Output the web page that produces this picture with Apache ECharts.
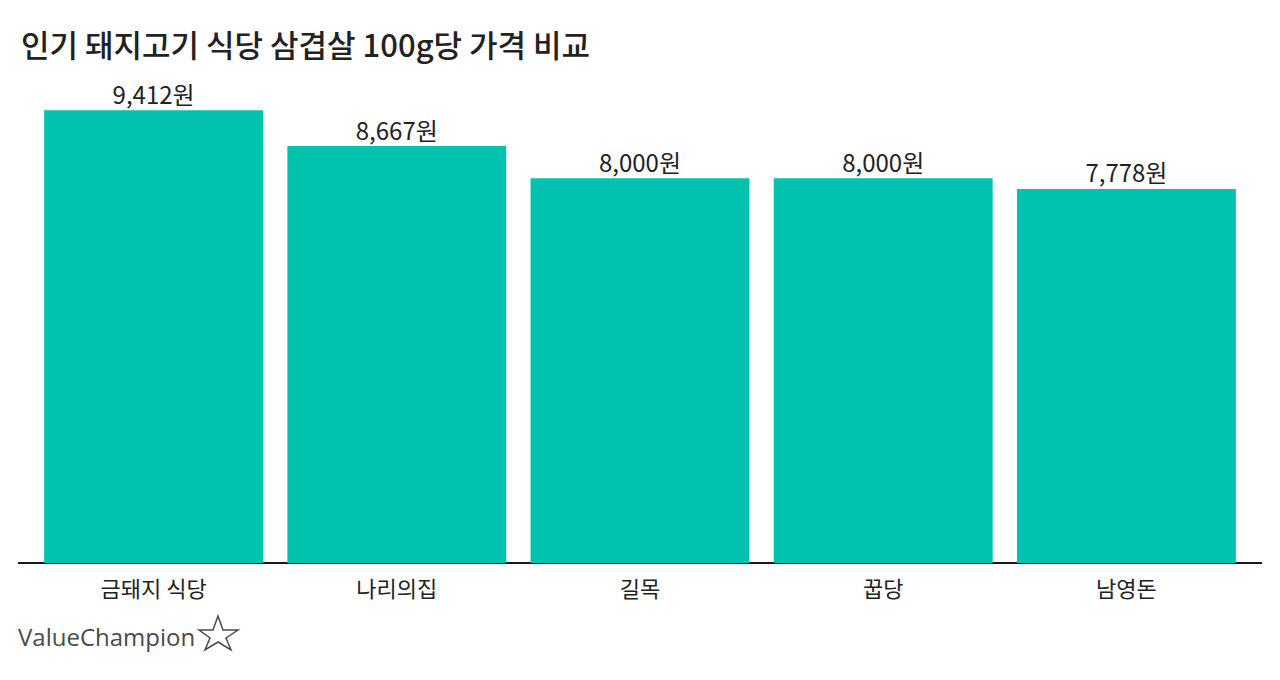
<!DOCTYPE html>
<html>
<head>
<meta charset="utf-8">
<script src="https://cdn.jsdelivr.net/npm/echarts@6/dist/echarts.min.js"></script>
<style>
html, body { margin: 0; padding: 0; background: #fff; }
#chart { width: 1280px; height: 680px; }
</style>
</head>
<body>
<div id="chart"></div>
<script>
const restaurants = ["금돼지 식당", "나리의집", "길목", "꿉당", "남영돈"]
const prices = [9412, 8667, 8000, 8000, 7778]
const barColor = "#00c2ae"
const fontKo = "'Noto Sans CJK KR', 'Noto Sans', sans-serif"

let chartDom = document.getElementById('chart')
let myChart = echarts.init(chartDom, null, {renderer: 'svg'})

let option = {
    backgroundColor: '#fff',
    animation: false,
    title: {
        text: '인기 돼지고기 식당 삼겹살 100g당 가격 비교',
        left: 16,
        top: 23,
        textStyle: {fontFamily: fontKo, fontSize: 31, fontWeight: 500, color: '#222'}
    },
    grid: {left: 32, right: 32, top: 82, bottom: 117},
    xAxis: {
        type: 'category',
        data: restaurants,
        axisLine: {show: false},
        axisTick: {show: false},
        axisLabel: {fontFamily: fontKo, fontSize: 22, color: '#222', margin: 13}
    },
    yAxis: {
        type: 'value',
        min: 0,
        max: 10000,
        show: false,
        splitLine: {show: false}
    },
    series: [{
        type: 'bar',
        data: prices,
        barCategoryGap: '10%',
        itemStyle: {color: barColor},
        label: {
            show: true,
            position: 'top',
            distance: 5,
            fontFamily: fontKo,
            fontSize: 24,
            color: '#222',
            formatter: p => p.value.toLocaleString('en-US') + '원'
        }
    }],
    graphic: [
        {
            type: 'line',
            shape: {x1: 18, y1: 563, x2: 1262, y2: 563},
            style: {stroke: '#1a1a1a', lineWidth: 2}
        },
        {
            type: 'text',
            left: 18,
            top: 624,
            style: {text: 'ValueChampion', font: "500 24px 'Open Sans', sans-serif", fill: '#4a4a4a'}
        },
        {
            type: 'polygon',
            shape: {points: [[218, 616], [223, 630], [238, 630], [226, 638], [231, 650], [218, 642], [205, 650], [210, 638], [199, 630], [213, 630]]},
            style: {fill: 'none', stroke: '#4a4a4a', lineWidth: 1.5}
        }
    ]
}
myChart.setOption(option)

window.addEventListener('resize', () => {
    myChart.resize()
})
</script>
</body>
</html>
